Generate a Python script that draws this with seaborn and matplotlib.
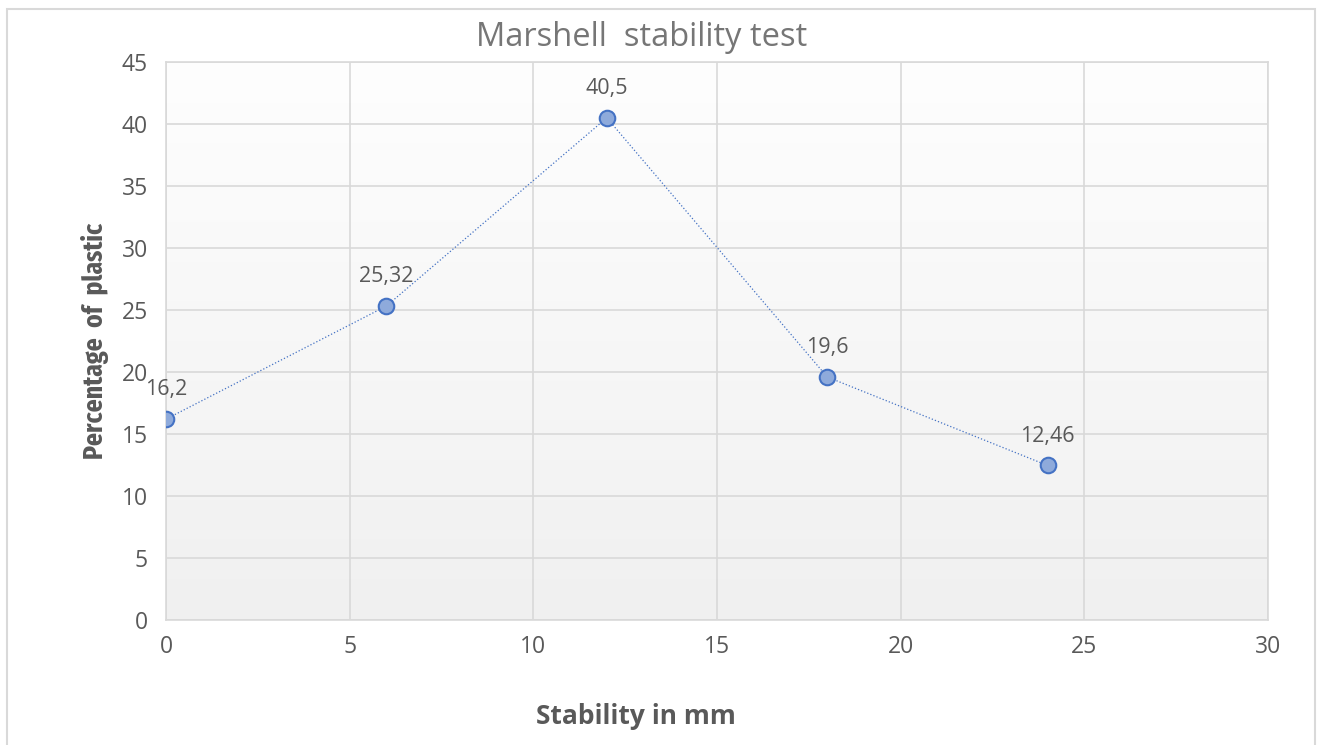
import os

import matplotlib
matplotlib.use("Agg")
import matplotlib.pyplot as plt
import numpy as np
import pandas as pd
import seaborn as sns
from matplotlib import font_manager as fm
from matplotlib.patches import Rectangle

# chart data
stability_mm = [0, 6, 12, 18, 24]
pct_plastic = [16.2, 25.32, 40.5, 19.6, 12.46]
point_labels = ["16,2", "25,32", "40,5", "19,6", "12,46"]
x_ticks = [0, 5, 10, 15, 20, 25, 30]
y_ticks = [0, 5, 10, 15, 20, 25, 30, 35, 40, 45]

TEXT = "#595959"
GRID = "#d9d9d9"
LINE = "#4472C4"

sns.set_style("white")
plt.rcParams["font.family"] = ["Open Sans", "DejaVu Sans"]


def condensed_bold_font():
    # look for a narrow bold face among the installed fonts (the y label uses one)
    best, best_score = None, None
    for f in fm.fontManager.ttflist:
        nm = (f.name + " " + os.path.basename(f.fname)).lower()
        st = str(f.stretch).lower()
        if not ("condensed" in nm or "narrow" in nm or "condensed" in st):
            continue
        if "italic" in nm or f.style != "normal":
            continue
        w = f.weight if isinstance(f.weight, (int, float)) else 400
        score = abs(w - 700)
        if "extra" in nm or "extra" in st:
            score -= 50
        if "semi" in nm or "semi" in st:
            score += 150
        if best_score is None or score < best_score:
            best, best_score = f, score
    if best is None:
        return fm.FontProperties(family="DejaVu Sans", weight="bold")
    return fm.FontProperties(fname=best.fname)


df = pd.DataFrame({"x": stability_mm, "y": pct_plastic})

fig = plt.figure(figsize=(13.22, 7.45), dpi=100)
ax = fig.add_axes([166 / 1322, 125 / 745, 1102 / 1322, 558 / 745])

# soft vertical gradient like the Excel plot area
grad = np.linspace(1.0, 0.0, 256).reshape(-1, 1)
ax.imshow(grad, extent=[0, 1, 0, 1], transform=ax.transAxes, aspect="auto",
          cmap=matplotlib.colors.LinearSegmentedColormap.from_list("g", ["#f0f0f0", "#fefefe"]),
          zorder=0)

sns.lineplot(data=df, x="x", y="y", ax=ax, sort=False, color=LINE,
             linestyle=":", linewidth=0.9, zorder=3)
sns.scatterplot(data=df, x="x", y="y", ax=ax, s=125, color="#8eaadb",
                edgecolor=LINE, linewidth=1.5, zorder=4)

for xv, yv, lab in zip(stability_mm, pct_plastic, point_labels):
    ax.annotate(lab, (xv, yv), xytext=(0, 21), textcoords="offset points",
                ha="center", va="center", fontsize=15.5, color=TEXT, zorder=5)

ax.set_xlim(0, 30)
ax.set_ylim(0, 45)
ax.set_xticks(x_ticks)
ax.set_yticks(y_ticks)
ax.grid(True, color=GRID, linewidth=1.2)
ax.set_axisbelow(True)
for sp in ax.spines.values():
    sp.set_color(GRID)
    sp.set_linewidth(1.2)
ax.tick_params(axis="both", length=0, labelsize=16.5, labelcolor=TEXT)
ax.tick_params(axis="y", pad=13)
ax.tick_params(axis="x", pad=11)
ax.set_xlabel("")
ax.set_ylabel("")

fig.text(642 / 1322, 1 - 38 / 745, "Marshell  stability test", ha="center", va="center",
         fontsize=23.5, color="#767676")
fig.text(636 / 1322, 1 - 717 / 745, "Stability in mm", ha="center", va="center",
         fontsize=19, fontweight="bold", color=TEXT)
ylab_font = condensed_bold_font()
ylab_font.set_size(20)
fig.text(95 / 1322, 1 - 341 / 745, "Percentage  of  plastic", ha="center", va="center",
         rotation=90, color=TEXT, fontproperties=ylab_font)

# chart frame
fig.patches.append(Rectangle((7 / 1322, -0.05), 1308 / 1322, 1.05 - 9 / 745,
                             transform=fig.transFigure, fill=False,
                             edgecolor=GRID, linewidth=1.5))

fig.savefig("out.png", dpi=100)
